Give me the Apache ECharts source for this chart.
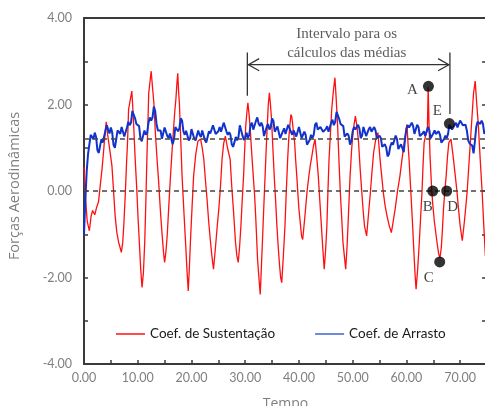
<!DOCTYPE html>
<html><head><meta charset="utf-8">
<script src="https://cdn.jsdelivr.net/npm/echarts@6/dist/echarts.min.js"></script>
<style>html,body{margin:0;padding:0;background:#fff}#c{width:485px;height:406px}</style>
</head><body><div id="c"></div>
<script>
// ---- data ----
const nomesSeries = ['Coef. de Sustentação', 'Coef. de Arrasto'];
const sustentacao = [[0,0.55],[0.3,-0.2],[0.6,-0.7],[1.0,-0.92],[1.3,-0.6],[1.6,-0.45],[2.0,-0.55],[2.3,-0.4],[2.7,-0.25],[3.0,0.1],[3.35,0.5],[3.7,1.0],[4.0,1.45],[4.15,1.6],[4.4,1.3],[4.8,0.95],[5.2,0.58],[5.5,0.0],[5.8,-0.58],[6.1,-0.95],[6.45,-1.19],[6.7,-1.3],[6.95,-1.42],[7.2,-1.2],[7.4,-0.81],[7.7,-0.03],[7.9,0.6],[8.1,1.12],[8.3,1.89],[8.6,2.1],[8.9,2.31],[9.05,2.0],[9.25,1.5],[9.5,0.8],[9.85,-0.03],[10.05,-0.6],[10.3,-1.19],[10.55,-1.8],[10.8,-2.23],[11.05,-1.9],[11.3,-1.19],[11.5,-0.3],[11.7,0.73],[11.9,1.6],[12.05,2.27],[12.3,2.55],[12.5,2.77],[12.75,2.4],[13.0,2.04],[13.3,1.3],[13.6,0.73],[13.9,0.2],[14.2,-0.42],[14.5,-0.95],[14.8,-1.42],[15.0,-1.65],[15.25,-1.4],[15.5,-1.0],[15.8,-0.3],[16.1,0.35],[16.4,0.95],[16.7,1.5],[16.9,1.85],[17.1,2.12],[17.3,2.5],[17.45,2.72],[17.6,2.3],[17.75,2.04],[18.0,1.2],[18.25,0.35],[18.6,-0.5],[18.9,-1.19],[19.15,-1.8],[19.4,-2.31],[19.6,-1.8],[19.8,-1.19],[20.1,-0.4],[20.4,0.35],[20.8,0.85],[21.2,1.15],[21.7,1.2],[22.0,1.0],[22.3,0.73],[22.6,0.25],[22.9,-0.19],[23.2,-0.7],[23.5,-1.12],[23.8,-1.5],[24.1,-1.81],[24.4,-1.4],[24.8,-0.81],[25.1,-0.4],[25.4,0.1],[25.7,0.75],[26.0,1.1],[26.3,1.27],[26.7,1.0],[27.2,0.73],[27.5,0.1],[27.8,-0.42],[28.2,-1.19],[28.45,-1.5],[28.7,-1.65],[28.95,-1.3],[29.2,-0.81],[29.45,-0.2],[29.7,0.35],[29.9,0.95],[30.1,1.5],[30.3,1.8],[30.5,2.04],[30.7,1.8],[30.9,1.5],[31.2,0.9],[31.5,0.35],[31.75,-0.1],[31.95,-0.58],[32.1,-1.0],[32.3,-1.58],[32.55,-2.0],[32.8,-2.39],[33.0,-1.8],[33.2,-1.19],[33.45,-0.4],[33.7,0.35],[33.9,0.95],[34.1,1.5],[34.3,2.0],[34.5,2.27],[34.7,2.0],[34.9,1.66],[35.15,1.0],[35.4,0.35],[35.65,-0.2],[35.9,-0.81],[36.15,-1.3],[36.4,-1.73],[36.6,-2.0],[36.8,-2.12],[37.1,-1.5],[37.4,-0.81],[37.65,0.0],[37.9,0.73],[38.1,1.2],[38.3,1.5],[38.5,1.77],[38.7,1.7],[38.95,1.4],[39.2,1.12],[39.4,0.7],[39.6,0.35],[39.8,-0.05],[40.0,-0.42],[40.3,-0.8],[40.5,-1.05],[40.7,-1.12],[41.1,-0.6],[41.5,-0.03],[41.8,0.3],[42.1,0.58],[42.4,0.8],[42.7,1.04],[43.0,1.2],[43.3,0.8],[43.6,0.35],[43.85,-0.15],[44.1,-0.65],[44.4,-1.25],[44.7,-1.81],[44.95,-1.4],[45.2,-0.81],[45.4,0.0],[45.6,0.73],[45.85,1.3],[46.1,1.89],[46.4,2.3],[46.7,2.62],[46.95,2.1],[47.2,1.5],[47.45,0.7],[47.7,-0.03],[47.95,-0.6],[48.2,-1.19],[48.45,-1.5],[48.7,-1.81],[48.95,-1.3],[49.2,-0.6],[49.5,0.3],[49.8,0.95],[50.1,1.4],[50.5,1.73],[50.8,1.5],[51.1,1.12],[51.4,0.5],[51.7,-0.03],[51.95,-0.45],[52.2,-0.81],[52.6,-1.04],[52.9,-0.6],[53.3,-0.03],[53.6,0.45],[53.9,0.89],[54.3,1.2],[54.7,1.35],[55.1,0.73],[55.4,0.35],[55.7,-0.03],[56.05,-0.35],[56.4,-0.58],[56.8,-0.8],[57.2,-0.96],[57.55,-0.7],[57.9,-0.42],[58.35,0.0],[58.8,0.35],[59.2,0.75],[59.6,1.12],[59.85,1.35],[60.1,1.54],[60.3,1.1],[60.5,0.73],[60.75,0.15],[61.0,-0.42],[61.2,-0.9],[61.4,-1.42],[61.6,-1.9],[61.8,-2.27],[62.1,-1.8],[62.4,-1.19],[62.65,-0.6],[62.9,-0.03],[63.1,0.6],[63.3,1.12],[63.6,1.3],[63.9,1.4],[64.05,2.4],[64.2,1.6],[64.4,0.8],[64.7,0.05],[64.9,-0.3],[65.2,-0.7],[65.5,-1.0],[65.7,-1.19],[66.0,-1.45],[66.25,-1.55],[66.5,-1.3],[66.7,-0.9],[66.9,-0.42],[67.15,0.0],[67.4,0.35],[67.65,0.8],[67.9,1.12],[68.3,1.2],[68.7,0.8],[69.1,0.35],[69.4,0.0],[69.7,-0.42],[70.0,-0.8],[70.4,-1.15],[70.8,-0.7],[71.3,-0.03],[71.6,0.55],[71.9,1.12],[72.2,1.7],[72.5,2.27],[72.8,2.54],[73.1,2.0],[73.4,1.5],[73.75,0.7],[74.1,-0.03],[74.4,-0.8],[74.7,-1.5],[75.0,-1.55]];
const arrasto = [[0,-1.0],[0.25,-0.2],[0.5,0.45],[0.75,0.85],[1,1.08],[1.25,1.3],[1.5,1.28],[1.75,1.2],[2,1.35],[2.25,1.25],[2.5,0.94],[2.75,0.88],[3,1.05],[3.25,1.2],[3.5,1.12],[3.75,1.15],[4,1.4],[4.25,1.52],[4.5,1.42],[4.75,1.33],[5,1.47],[5.25,1.35],[5.5,1.06],[5.75,1.0],[6,1.2],[6.25,1.4],[6.5,1.37],[6.75,1.32],[7,1.48],[7.25,1.45],[7.5,1.26],[7.75,1.25],[8,1.47],[8.25,1.6],[8.5,1.52],[8.75,1.58],[9,1.85],[9.25,1.86],[9.5,1.68],[9.75,1.55],[10,1.58],[10.25,1.5],[10.5,1.22],[10.75,1.15],[11,1.28],[11.25,1.4],[11.5,1.3],[11.75,1.35],[12,1.58],[12.25,1.7],[12.5,1.63],[12.75,1.7],[13,1.95],[13.25,1.85],[13.5,1.55],[13.75,1.4],[14,1.38],[14.25,1.4],[14.5,1.21],[14.75,1.25],[15,1.47],[15.25,1.45],[15.5,1.27],[15.75,1.22],[16,1.33],[16.25,1.3],[16.5,1.08],[16.75,1.2],[17,1.48],[17.25,1.52],[17.5,1.38],[17.75,1.45],[18,1.68],[18.25,1.63],[18.5,1.38],[18.75,1.3],[19,1.39],[19.25,1.38],[19.5,1.17],[19.75,1.22],[20,1.43],[20.25,1.42],[20.5,1.22],[20.75,1.17],[21,1.28],[21.25,1.4],[21.5,1.3],[21.75,1.25],[22,1.4],[22.25,1.38],[22.5,1.18],[22.75,1.12],[23,1.25],[23.25,1.38],[23.5,1.33],[23.75,1.35],[24,1.52],[24.25,1.5],[24.5,1.32],[24.75,1.28],[25,1.38],[25.25,1.48],[25.5,1.37],[25.75,1.4],[26,1.58],[26.25,1.6],[26.5,1.38],[26.75,1.3],[27,1.36],[27.25,1.3],[27.5,1.08],[27.75,1.02],[28,1.13],[28.25,1.25],[28.5,1.17],[28.75,1.25],[29,1.52],[29.25,1.5],[29.5,1.28],[29.75,1.18],[30,1.24],[30.25,1.35],[30.5,1.22],[30.75,1.3],[31,1.53],[31.25,1.58],[31.5,1.42],[31.75,1.45],[32,1.62],[32.25,1.7],[32.5,1.56],[32.75,1.5],[33,1.58],[33.25,1.5],[33.5,1.27],[33.75,1.3],[34,1.48],[34.25,1.55],[34.5,1.42],[34.75,1.48],[35,1.68],[35.25,1.62],[35.5,1.37],[35.75,1.35],[36,1.49],[36.25,1.45],[36.5,1.22],[36.75,1.2],[37,1.38],[37.25,1.45],[37.5,1.32],[37.75,1.35],[38,1.53],[38.25,1.55],[38.5,1.37],[38.75,1.3],[39,1.4],[39.25,1.42],[39.5,1.26],[39.75,1.28],[40,1.48],[40.25,1.45],[40.5,1.22],[40.75,1.2],[41,1.37],[41.25,1.3],[41.5,1.07],[41.75,1.05],[42,1.18],[42.25,1.3],[42.5,1.22],[42.75,1.3],[43,1.53],[43.25,1.58],[43.5,1.42],[43.75,1.4],[44,1.48],[44.25,1.5],[44.5,1.37],[44.75,1.33],[45,1.43],[45.25,1.5],[45.5,1.37],[45.75,1.4],[46,1.58],[46.25,1.65],[46.5,1.52],[46.75,1.6],[47,1.83],[47.25,1.82],[47.5,1.66],[47.75,1.55],[48,1.58],[48.25,1.5],[48.5,1.26],[48.75,1.22],[49,1.33],[49.25,1.28],[49.5,1.07],[49.75,1.15],[50,1.38],[50.25,1.48],[50.5,1.42],[50.75,1.4],[51,1.53],[51.25,1.45],[51.5,1.22],[51.75,1.28],[52,1.48],[52.25,1.45],[52.5,1.27],[52.75,1.3],[53,1.43],[53.25,1.48],[53.5,1.37],[53.75,1.35],[54,1.48],[54.25,1.4],[54.5,1.22],[54.75,1.18],[55,1.28],[55.25,1.22],[55.5,1.02],[55.75,0.98],[56,1.08],[56.25,1.0],[56.5,0.8],[56.75,0.85],[57,1.03],[57.25,1.12],[57.5,1.07],[57.75,1.1],[58,1.28],[58.25,1.2],[58.5,0.97],[58.75,0.95],[59,1.08],[59.25,1.05],[59.5,0.9],[59.75,1.2],[60,1.43],[60.25,1.52],[60.5,1.47],[60.75,1.45],[61,1.58],[61.25,1.5],[61.5,1.32],[61.75,1.35],[62,1.53],[62.25,1.48],[62.5,1.27],[62.75,1.25],[63,1.33],[63.25,1.38],[63.5,1.27],[63.75,1.3],[64,1.48],[64.25,1.42],[64.5,1.22],[64.75,1.2],[65,1.33],[65.25,1.4],[65.5,1.32],[65.75,1.28],[66,1.38],[66.25,1.3],[66.5,1.12],[66.75,1.1],[67,1.2],[67.25,1.28],[67.5,1.22],[67.75,1.32],[68,1.53],[68.25,1.55],[68.5,1.42],[68.75,1.42],[69,1.53],[69.25,1.58],[69.5,1.47],[69.75,1.5],[70,1.63],[70.25,1.65],[70.5,1.52],[70.75,1.48],[71,1.53],[71.25,1.4],[71.5,1.17],[71.75,1.1],[72,1.13],[72.25,1.05],[72.5,0.87],[72.75,1.15],[73,1.48],[73.25,1.6],[73.5,1.57],[73.75,1.55],[74,1.63],[74.25,1.55],[74.5,1.32],[74.75,1.35],[75,1.45]];
const linhasReferencia = [0, 1.2];
const pontos = [[64.1,2.42],[64.9,0],[66.2,-1.64],[67.5,0],[68.0,1.56]];
const rotulosPontos = ['A','B','C','D','E'];
const intervaloMedias = [30.4, 68.1];
const textoIntervalo = ['Intervalo para os', 'cálculos das médias'];
const xTicks = {min: 0, max: 75, interval: 5};
const yTicks = {min: -4, max: 4, interval: 1};

// ---- chart ----
const chart = echarts.init(document.getElementById('c'), null, {renderer: 'canvas'});
const grid = {left: 84, top: 18, width: 403, height: 346, containLabel: false, outerBoundsMode: 'none'};
const axisCol = '#3a3a3a';
const labCol = '#7f7f7f';
const sans = 'Lato, "Open Sans", sans-serif';
const nameFont = '"Open Sans", Lato, sans-serif';
const serif = '"Liberation Serif", "DejaVu Serif", serif';

const labelOffsets = {A: [-16, 4], B: [-5, 16], C: [-11, 16], D: [6, 16], E: [-12, -12]};

// annotation arrow geometry (data units)
const [xa, xb] = intervaloMedias;
const ySeta = 2.92;
const anotacao = [
  {coords: [[xa, 3.2], [xa, 2.2]]},
  {coords: [[xb, 3.2], [xb, 1.78]]},
  {coords: [[xa + 0.2, ySeta], [xb - 0.2, ySeta]]},
  {coords: [[xa + 2.2, ySeta + 0.14], [xa + 0.2, ySeta], [xa + 2.2, ySeta - 0.14]]},
  {coords: [[xb - 2.2, ySeta + 0.14], [xb - 0.2, ySeta], [xb - 2.2, ySeta - 0.14]]}
];

const option = {
  animation: false,
  backgroundColor: '#fff',
  grid: grid,
  legend: {
    data: nomesSeries.map(n => ({name: n, icon: 'rect'})),
    left: 111, top: 322,
    itemWidth: 29, itemHeight: 1.6, itemGap: 40,
    textStyle: {fontFamily: sans, fontSize: 13.5, color: '#1a1a1a'}
  },
  xAxis: [{
    type: 'value', min: xTicks.min, max: xTicks.max, interval: xTicks.interval,
    name: 'Tempo', nameLocation: 'middle', nameGap: 33,
    nameTextStyle: {fontFamily: nameFont, fontSize: 14, color: labCol},
    axisLine: {show: true, onZero: false, lineStyle: {color: axisCol, width: 2}},
    axisTick: {show: true, inside: true, length: 4, lineStyle: {color: axisCol, width: 1.5}},
    axisLabel: {fontFamily: sans, fontSize: 12.5, color: labCol, margin: 7, showMaxLabel: false,
      formatter: v => (v % 10 === 0 ? v.toFixed(2) : '')},
    splitLine: {show: false}
  }, {
    type: 'value', position: 'top', min: xTicks.min, max: xTicks.max,
    axisLine: {show: true, onZero: false, lineStyle: {color: axisCol, width: 2}},
    axisTick: {show: false}, axisLabel: {show: false}, splitLine: {show: false}
  }],
  yAxis: [{
    type: 'value', min: yTicks.min, max: yTicks.max, interval: yTicks.interval,
    name: 'Forças Aerodinâmicas', nameLocation: 'middle', nameGap: 62, nameRotate: 90,
    nameTextStyle: {fontFamily: nameFont, fontSize: 14.5, color: labCol, padding: [0, 0, 0, 10]},
    axisLine: {show: true, onZero: false, lineStyle: {color: axisCol, width: 2}},
    axisTick: {show: true, inside: true, length: 4, lineStyle: {color: axisCol, width: 1.5}},
    axisLabel: {fontFamily: sans, fontSize: 12.5, color: labCol, margin: 12,
      formatter: v => (v % 2 === 0 ? v.toFixed(2) : '')},
    splitLine: {show: false}
  }, {
    type: 'value', position: 'right', min: yTicks.min, max: yTicks.max, interval: yTicks.interval,
    axisLine: {show: true, onZero: false, lineStyle: {color: axisCol, width: 2}},
    axisTick: {show: true, inside: true, length: 5, lineStyle: {color: axisCol, width: 1.5}},
    axisLabel: {show: false}, splitLine: {show: false}
  }],
  series: [
    {
      name: nomesSeries[0], type: 'line', data: sustentacao, symbol: 'none',
      lineStyle: {color: '#ff1010', width: 1.3}, itemStyle: {color: '#ff2020'}, z: 2
    },
    {
      name: nomesSeries[1], type: 'line', data: arrasto, symbol: 'none',
      lineStyle: {color: '#1133cc', width: 2}, itemStyle: {color: '#4a6bd6'}, z: 3,
      markLine: {
        silent: true, symbol: 'none', label: {show: false},
        lineStyle: {color: '#444', type: [5, 4], width: 1.5},
        data: linhasReferencia.map(v => ({yAxis: v})), z: 4
      }
    },
    {
      type: 'lines', coordinateSystem: 'cartesian2d', polyline: true, silent: true,
      lineStyle: {color: '#333', width: 1.3, opacity: 1}, data: anotacao, z: 5
    },
    {
      type: 'scatter', data: pontos.map((p, i) => ({value: p, name: rotulosPontos[i]})),
      symbolSize: 11, itemStyle: {color: '#000'}, z: 6, silent: true,
      label: {
        show: true, position: 'inside', formatter: p => p.name,
        fontFamily: serif, fontSize: 15, color: '#111',
        align: 'center', verticalAlign: 'middle'
      },
      labelLayout: p => ({dx: labelOffsets[rotulosPontos[p.dataIndex]][0], dy: labelOffsets[rotulosPontos[p.dataIndex]][1]})
    },
    {
      type: 'scatter', symbolSize: 0, silent: true, z: 6,
      data: [{value: [48.9, 3.62], name: textoIntervalo[0]}, {value: [48.9, 3.2], name: textoIntervalo[1]}],
      label: {show: true, position: 'inside', formatter: p => p.name, fontFamily: serif, fontSize: 15, color: '#333'}
    }
  ]
};
chart.setOption(option);
</script></body></html>
